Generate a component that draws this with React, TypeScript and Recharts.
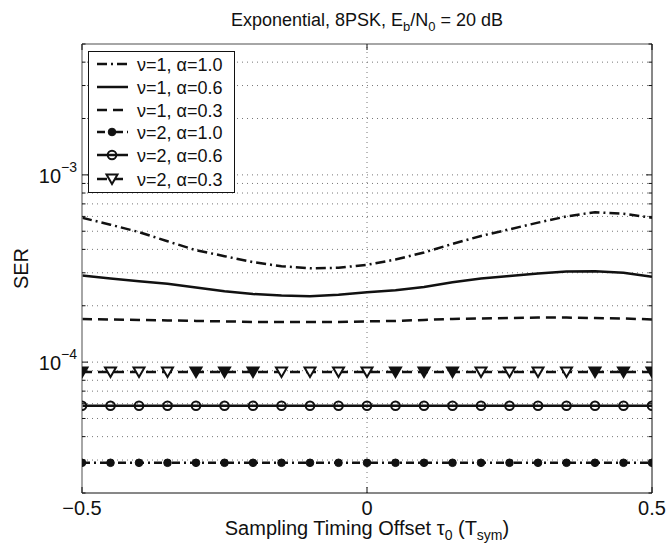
import React from 'react';
import { LineChart, Line, XAxis, YAxis, ReferenceLine, Legend } from 'recharts';

const tau = [-0.5, -0.45, -0.4, -0.35, -0.3, -0.25, -0.2, -0.15, -0.1, -0.05, 0, 0.05, 0.1, 0.15, 0.2, 0.25, 0.3, 0.35, 0.4, 0.45, 0.5];

const serNu1Alpha10 = [5.9e-4, 5.42e-4, 4.95e-4, 4.42e-4, 3.96e-4, 3.68e-4, 3.42e-4, 3.25e-4, 3.17e-4, 3.19e-4, 3.31e-4, 3.53e-4, 3.85e-4, 4.28e-4, 4.72e-4, 5.12e-4, 5.56e-4, 6.0e-4, 6.32e-4, 6.2e-4, 5.9e-4];
const serNu1Alpha06 = [2.9e-4, 2.8e-4, 2.7e-4, 2.62e-4, 2.5e-4, 2.39e-4, 2.31e-4, 2.27e-4, 2.25e-4, 2.29e-4, 2.36e-4, 2.42e-4, 2.52e-4, 2.67e-4, 2.8e-4, 2.88e-4, 2.97e-4, 3.05e-4, 3.06e-4, 3.0e-4, 2.86e-4];
const serNu1Alpha03 = [1.7e-4, 1.69e-4, 1.68e-4, 1.67e-4, 1.66e-4, 1.65e-4, 1.64e-4, 1.64e-4, 1.64e-4, 1.64e-4, 1.65e-4, 1.66e-4, 1.68e-4, 1.7e-4, 1.71e-4, 1.72e-4, 1.73e-4, 1.73e-4, 1.72e-4, 1.71e-4, 1.69e-4];
const serNu2Alpha10 = [2.9e-5, 2.9e-5, 2.9e-5, 2.9e-5, 2.9e-5, 2.9e-5, 2.9e-5, 2.9e-5, 2.9e-5, 2.9e-5, 2.9e-5, 2.9e-5, 2.9e-5, 2.9e-5, 2.9e-5, 2.9e-5, 2.9e-5, 2.9e-5, 2.9e-5, 2.9e-5, 2.9e-5];
const serNu2Alpha06 = [5.85e-5, 5.85e-5, 5.85e-5, 5.85e-5, 5.85e-5, 5.85e-5, 5.85e-5, 5.85e-5, 5.85e-5, 5.85e-5, 5.85e-5, 5.85e-5, 5.85e-5, 5.85e-5, 5.85e-5, 5.85e-5, 5.85e-5, 5.85e-5, 5.85e-5, 5.85e-5, 5.85e-5];
const serNu2Alpha03 = [8.85e-5, 8.85e-5, 8.85e-5, 8.85e-5, 8.85e-5, 8.85e-5, 8.85e-5, 8.85e-5, 8.85e-5, 8.85e-5, 8.85e-5, 8.85e-5, 8.85e-5, 8.85e-5, 8.85e-5, 8.85e-5, 8.85e-5, 8.85e-5, 8.85e-5, 8.85e-5, 8.85e-5];

// which triangle markers appear solid in the picture
const triangleFilled = [1, 0, 0, 0, 1, 1, 1, 0, 0, 0, 0, 1, 1, 1, 0, 0, 0, 0, 1, 1, 1];

const seriesLabels = ['ν=1, α=1.0', 'ν=1, α=0.6', 'ν=1, α=0.3', 'ν=2, α=1.0', 'ν=2, α=0.6', 'ν=2, α=0.3'];
const seriesKeys = ['s1', 's2', 's3', 's4', 's5', 's6'];

const yGridValues = [2e-5, 3e-5, 4e-5, 5e-5, 6e-5, 7e-5, 8e-5, 9e-5, 1e-4, 2e-4, 3e-4, 4e-4, 5e-4, 6e-4, 7e-4, 8e-4, 9e-4, 1e-3, 2e-3, 3e-3, 4e-3, 5e-3];
const yMajorTicks = [1e-4, 1e-3];
const yMajorLabels = ['−4', '−3'];
const xTicks = [-0.5, 0, 0.5];
const xTickLabels = ['−0.5', '0', '0.5'];

const data = tau.map((t, i) => ({
  tau: t,
  s1: serNu1Alpha10[i],
  s2: serNu1Alpha06[i],
  s3: serNu1Alpha03[i],
  s4: serNu2Alpha10[i],
  s5: serNu2Alpha06[i],
  s6: serNu2Alpha03[i],
}));

const FONT = '"Liberation Sans", Arial, Helvetica, sans-serif';
const DASHDOT = '10 4 2 4';
const DASHED = '10 6';
const DASHDOT2 = '8 4 2 4';

const styles = [
  { dash: DASHDOT, marker: 'none' },
  { dash: undefined, marker: 'none' },
  { dash: DASHED, marker: 'none' },
  { dash: DASHDOT2, marker: 'dot' },
  { dash: undefined, marker: 'circle' },
  { dash: DASHED, marker: 'triangle' },
];

function Marker({ type, cx, cy, filled }: { type: string; cx: number; cy: number; filled?: boolean }) {
  if (type === 'dot') return <circle cx={cx} cy={cy} r={3.8} fill="#111" stroke="#111" strokeWidth={1} />;
  if (type === 'circle') return <circle cx={cx} cy={cy} r={4.3} fill="none" stroke="#111" strokeWidth={2} />;
  if (type === 'triangle')
    return (
      <polygon
        points={`${cx - 5.5},${cy - 4.5} ${cx + 5.5},${cy - 4.5} ${cx},${cy + 5}`}
        fill={filled ? '#111' : '#fff'}
        stroke="#111"
        strokeWidth={2}
        strokeLinejoin="miter"
      />
    );
  return null;
}

function makeDot(type: string) {
  return (props: any) => {
    const { cx, cy, index } = props;
    if (cx == null || cy == null) return <g key={`d-${type}-${index}`} />;
    return (
      <g key={`d-${type}-${index}`}>
        <Marker type={type} cx={cx} cy={cy} filled={type === 'triangle' ? !!triangleFilled[index] : false} />
      </g>
    );
  };
}

function LegendBox() {
  const w = 147;
  const h = 142;
  const rowY = [13, 36, 59, 81, 104, 128];
  return (
    <svg width={w} height={h} style={{ display: 'block' }}>
      <rect x={0.5} y={0.5} width={w - 1} height={h - 1} fill="#fff" stroke="#111" strokeWidth={1} />
      {seriesLabels.map((lab, i) => (
        <g key={lab}>
          <line x1={9} x2={40} y1={rowY[i]} y2={rowY[i]} stroke="#111" strokeWidth={2.5} strokeDasharray={styles[i].dash} />
          <Marker type={styles[i].marker} cx={24} cy={rowY[i]} filled={false} />
          <text x={49} y={rowY[i] + 6.5} fontSize={18} fontFamily={FONT} fill="#111">
            {lab}
          </text>
        </g>
      ))}
    </svg>
  );
}

const BottomTick = (props: any) => {
  const { x, y, payload } = props;
  return (
    <g>
      <line x1={x} x2={x} y1={y} y2={y - 6} stroke="#111" strokeWidth={1} />
      <text x={x} y={y + 22} textAnchor="middle" fontSize={20} fontFamily={FONT} fill="#111">
        {xTickLabels[xTicks.indexOf(payload.value)] ?? String(payload.value)}
      </text>
    </g>
  );
};

const TopTick = (props: any) => {
  const { x, y } = props;
  return <line x1={x} x2={x} y1={y} y2={y + 6} stroke="#111" strokeWidth={1} />;
};

const LeftTick = (props: any) => {
  const { x, y, payload } = props;
  const mi = yMajorTicks.findIndex((v) => Math.abs(v - payload.value) / v < 1e-6);
  const major = mi >= 0;
  return (
    <g>
      <line x1={x} x2={x + (major ? 6 : 3.5)} y1={y} y2={y} stroke="#111" strokeWidth={1} />
      {major && (
        <text x={x - 5} y={y + 8} textAnchor="end" fontSize={20} fontFamily={FONT} fill="#111">
          <tspan>10</tspan>
          <tspan dy={-11} fontSize={14}>{yMajorLabels[mi]}</tspan>
        </text>
      )}
    </g>
  );
};

const RightTick = (props: any) => {
  const { x, y, payload } = props;
  const major = yMajorTicks.some((v) => Math.abs(v - payload.value) / v < 1e-6);
  return <line x1={x} x2={x - (major ? 6 : 3.5)} y1={y} y2={y} stroke="#111" strokeWidth={1} />;
};

const XTitle = (props: any) => {
  const vb = props.viewBox || { x: 82, y: 493, width: 570, height: 0 };
  const cx = vb.x + vb.width / 2;
  return (
    <text x={cx} y={vb.y + 42} textAnchor="middle" fontSize={20} fontFamily={FONT} fill="#111">
      <tspan>Sampling Timing Offset τ</tspan>
      <tspan dy={5} fontSize={14}>0</tspan>
      <tspan dy={-5}> (T</tspan>
      <tspan dy={5} fontSize={14}>sym</tspan>
      <tspan dy={-5}>)</tspan>
    </text>
  );
};

const MainTitle = (props: any) => {
  const vb = props.viewBox || { x: 82, y: 43, width: 570, height: 1 };
  const cx = vb.x + vb.width / 2;
  return (
    <text x={cx} y={vb.y + vb.height - 18} textAnchor="middle" fontSize={18} fontFamily={FONT} fill="#111">
      <tspan>Exponential, 8PSK, E</tspan>
      <tspan dy={5} fontSize={13}>b</tspan>
      <tspan dy={-5}>/N</tspan>
      <tspan dy={5} fontSize={13}>0</tspan>
      <tspan dy={-5}> = 20 dB</tspan>
    </text>
  );
};

const YTitle = (props: any) => {
  const vb = props.viewBox || { x: 22, y: 44, width: 60, height: 449 };
  const cy = vb.y + vb.height / 2;
  const tx = 28;
  return (
    <text x={tx} y={cy} transform={`rotate(-90 ${tx} ${cy})`} textAnchor="middle" fontSize={20} fontFamily={FONT} fill="#111">
      SER
    </text>
  );
};

export default function App() {
  return (
    <div style={{ position: 'absolute', left: 0, top: 0, width: 670, height: 550, background: '#fff' }}>
      <LineChart width={670} height={550} data={data} margin={{ top: 43, right: 17, bottom: 27, left: 22 }}>
        <XAxis
          xAxisId="b"
          dataKey="tau"
          type="number"
          domain={[-0.5, 0.5]}
          ticks={xTicks}
          allowDataOverflow
          height={30}
          tickSize={0}
          tickMargin={0}
          tick={<BottomTick />}
          axisLine={{ stroke: '#111', strokeWidth: 1 }}
          tickLine={false}
          interval={0}
          label={<XTitle />}
        />
        <XAxis
          xAxisId="t"
          orientation="top"
          dataKey="tau"
          type="number"
          domain={[-0.5, 0.5]}
          ticks={xTicks}
          allowDataOverflow
          height={1}
          tickSize={0}
          tickMargin={0}
          tick={<TopTick />}
          axisLine={{ stroke: '#888', strokeWidth: 1.5 }}
          tickLine={false}
          interval={0}
          label={<MainTitle />}
        />
        <YAxis
          yAxisId="l"
          type="number"
          scale="log"
          domain={[2e-5, 5e-3]}
          allowDataOverflow
          ticks={yGridValues}
          width={60}
          tickSize={0}
          tickMargin={0}
          tick={<LeftTick />}
          axisLine={{ stroke: '#888', strokeWidth: 1.5 }}
          tickLine={false}
          interval={0}
          label={<YTitle />}
        />
        <YAxis
          yAxisId="r"
          orientation="right"
          type="number"
          scale="log"
          domain={[2e-5, 5e-3]}
          allowDataOverflow
          ticks={yGridValues}
          width={1}
          tickSize={0}
          tickMargin={0}
          tick={<RightTick />}
          axisLine={{ stroke: '#111', strokeWidth: 1 }}
          tickLine={false}
          interval={0}
        />
        {yGridValues.slice(1, -1).map((v) => (
          <ReferenceLine key={`g${v}`} xAxisId="b" yAxisId="l" y={v} stroke="#777" strokeWidth={1} strokeDasharray="1 4" ifOverflow="hidden" />
        ))}
        <ReferenceLine xAxisId="b" yAxisId="l" x={0} stroke="#777" strokeWidth={1} strokeDasharray="1 4" />
        {seriesKeys.map((k, i) => (
          <Line
            key={k}
            xAxisId="b"
            yAxisId="l"
            dataKey={k}
            name={seriesLabels[i]}
            type="linear"
            stroke="#111"
            strokeWidth={2.5}
            strokeDasharray={styles[i].dash}
            dot={styles[i].marker === 'none' ? false : makeDot(styles[i].marker)}
            activeDot={false}
            isAnimationActive={false}
          />
        ))}
        <Legend
          layout="vertical"
          align="center"
          verticalAlign="middle"
          content={() => <LegendBox />}
          wrapperStyle={{ position: 'absolute', left: 88, top: 51, width: 147, height: 142 }}
        />
      </LineChart>
    </div>
  );
}
